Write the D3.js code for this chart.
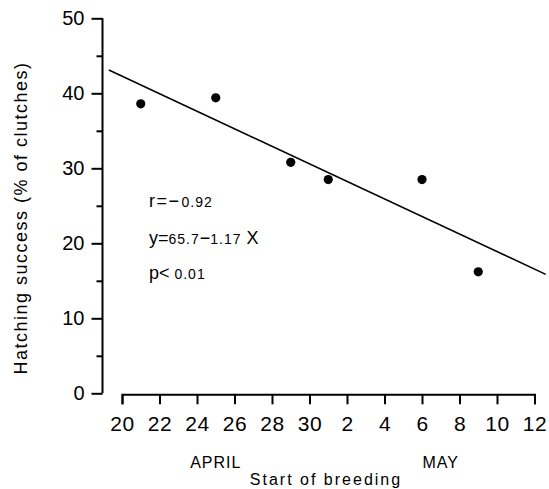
<!DOCTYPE html>
<html>
<head>
<meta charset="utf-8">
<script src="https://cdn.jsdelivr.net/npm/d3@7"></script>
<style>
  body { margin: 0; background: #fff; }
  svg text { font-family: "Liberation Sans", Arial, sans-serif; fill: #000; }
</style>
</head>
<body>
<div id="container"></div>
<script>
// start of breeding as day counted from 1 April (31 = 1 May)
let startDay = [21, 25, 29, 31, 36, 39];
let hatching = [38.6, 39.4, 30.8, 28.5, 28.5, 16.2];

// regression y = 65.7 - 1.17 x, drawn across this x range
let fitIntercept = 65.7;
let fitSlope = -1.17;
let fitRange = [19.3, 42.6];

let xTicks = [20, 22, 24, 26, 28, 30, 32, 34, 36, 38, 40, 42];
let xTickLabels = ["20", "22", "24", "26", "28", "30", "2", "4", "6", "8", "10", "12"];
let yTicks = [0, 5, 10, 15, 20, 25, 30, 35, 40, 45, 50];
let monthNames = ["APRIL", "MAY"];
let monthMid = [25.0, 37.0];

let w = 549;
let h = 489;
let yAxisX = 102.5;

let viz = d3.select("#container")
  .append("svg")
    .attr("width", w)
    .attr("height", h)
;

let xScale = d3.scaleLinear().domain([20, 42]).range([122, 534.5]);
let yScale = d3.scaleLinear().domain([0, 50]).range([393.3, 18.3]);

// y axis, major ticks every 10, minor every 5
let yAxis = d3.axisLeft(yScale)
  .tickValues(yTicks)
  .tickSize(11)
  .tickSizeOuter(0)
  .tickPadding(7)
  .tickFormat(function(d){ return d % 10 == 0 ? d : ""; });

let yAxisGroup = viz.append("g")
  .attr("transform", "translate(" + yAxisX + ",0)")
  .call(yAxis);
yAxisGroup.selectAll(".tick line")
  .attr("x2", function(d){ return d % 10 == 0 ? -11 : -6; });
yAxisGroup.selectAll("line, path").attr("stroke", "#000").attr("stroke-width", 2);
yAxisGroup.selectAll("text").attr("font-size", "20px");
yAxisGroup.select(".domain").attr("d", "M0," + yScale(50) + "V" + yScale(0));

// x axis, sits just under the zero line, detached from the y axis
let xAxis = d3.axisBottom(xScale)
  .tickValues(xTicks)
  .tickSize(10)
  .tickSizeOuter(10)
  .tickPadding(12)
  .tickFormat(function(d, i){ return xTickLabels[i]; });

let xAxisGroup = viz.append("g")
  .attr("transform", "translate(0," + (yScale(0) + 1) + ")")
  .call(xAxis);
xAxisGroup.selectAll("line, path").attr("stroke", "#000").attr("stroke-width", 2);
xAxisGroup.selectAll("text").attr("font-size", "21px").attr("letter-spacing", "0.5px");

// month names and axis title
viz.selectAll(".month")
  .data(monthNames)
  .enter()
  .append("text")
    .attr("class", "month")
    .text(function(d){ return d; })
    .attr("x", function(d, i){ return xScale(monthMid[i]); })
    .attr("y", 468)
    .attr("text-anchor", "middle")
    .attr("font-size", "16px")
    .attr("letter-spacing", "1px")
;

viz.append("text")
  .text("Start of breeding")
  .attr("x", 326)
  .attr("y", 485)
  .attr("text-anchor", "middle")
  .attr("font-size", "16px")
  .attr("letter-spacing", "2px")
;

viz.append("text")
  .text("Hatching success (% of clutches)")
  .attr("transform", "translate(27,218) rotate(-90)")
  .attr("text-anchor", "middle")
  .attr("font-size", "18px")
  .attr("letter-spacing", "1.5px")
;

// regression line
let fitLine = d3.line()
  .x(function(d){ return xScale(d); })
  .y(function(d){ return yScale(fitIntercept + fitSlope * d); });

viz.append("path")
  .datum(fitRange)
  .attr("d", fitLine)
  .attr("fill", "none")
  .attr("stroke", "#000")
  .attr("stroke-width", 1.6)
;

// data points
viz.selectAll(".dot")
  .data(startDay)
  .enter()
  .append("circle")
    .attr("class", "dot")
    .attr("cx", function(d){ return xScale(d); })
    .attr("cy", function(d, i){ return yScale(hatching[i]); })
    .attr("r", 4.6)
    .attr("fill", "#000")
;

// statistics, big symbols with small numbers: [text, size, gap before]
let stats = [
  [["r=−", 18, 0], ["0.92", 14, 1]],
  [["y=", 18, 0], ["65.7", 14, 0], ["−", 18, 0], ["1.17", 14, 0], [" X", 18, 0]],
  [["p<", 18, 0], [" 0.01", 14, 0]]
];
let statY = [206.5, 244, 279];

stats.forEach(function(parts, i){
  let t = viz.append("text")
    .attr("x", 149)
    .attr("y", statY[i]);
  parts.forEach(function(p){
    t.append("tspan")
      .text(p[0])
      .attr("dx", p[2])
      .attr("font-size", p[1] + "px")
      .attr("letter-spacing", p[1] < 16 ? "1px" : (i == 0 ? "1.5px" : "0px"));
  });
});
</script>
</body>
</html>
